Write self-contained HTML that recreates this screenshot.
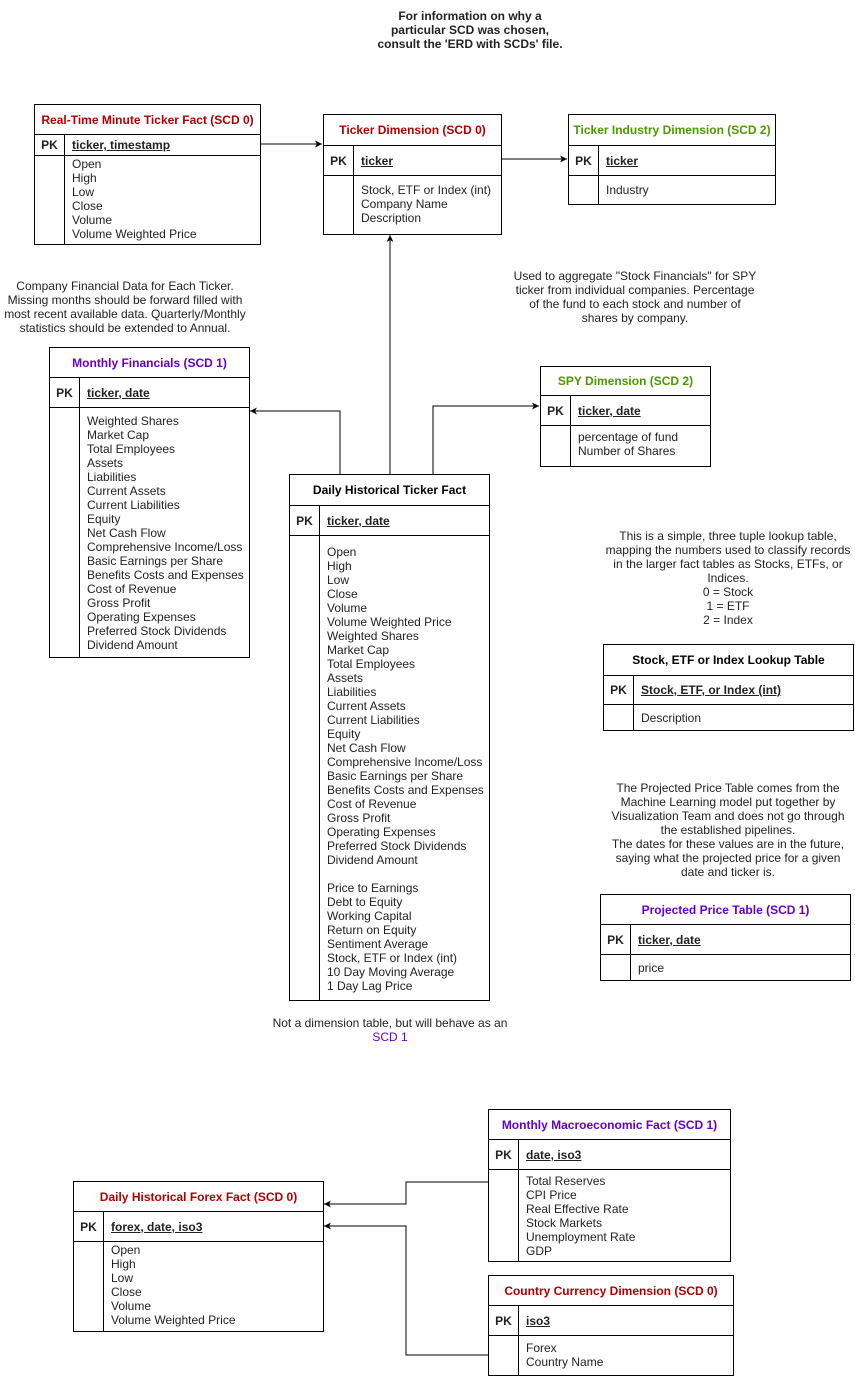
<!DOCTYPE html>
<html><head><meta charset="utf-8"><style>
body{margin:0;width:855px;height:1376px;background:#fff;position:relative;font-family:"Liberation Sans",Arial,sans-serif;font-size:12px;color:#222;overflow:hidden}
.t{position:absolute;border:1px solid #000;background:#fff;box-sizing:border-box;display:flex;flex-direction:column}
.h{border-bottom:1px solid #000;box-sizing:border-box;display:flex;align-items:center;justify-content:center;flex:none;font-weight:bold}
.r{display:flex;border-bottom:1px solid #000;box-sizing:border-box;flex:none;font-weight:bold}
.k{width:30px;border-right:1px solid #000;box-sizing:border-box;flex:none;display:flex;align-items:center;justify-content:center}
.r .v{padding-left:7px;display:flex;align-items:center;text-decoration:underline}
.b{display:flex;flex:1}
.b .v{padding-left:7px;line-height:14px}
.red{color:#b20000}.grn{color:#4d9900}.pur{color:#6600cc}
.n{position:absolute;text-align:center;line-height:14px}
svg{position:absolute;left:0;top:0}
</style></head><body>
<svg width="855" height="1376">
<defs><marker id="a" markerWidth="8" markerHeight="8" refX="7" refY="4" orient="auto" markerUnits="userSpaceOnUse"><path d="M0,0.5 L7,4 L0,7.5 L2,4z" fill="#000"/></marker></defs>
<g stroke="#000" fill="none" stroke-width="1">
<path d="M260,144 H322" marker-end="url(#a)"/>
<path d="M501,159 H567" marker-end="url(#a)"/>
<path d="M390,474 V235" marker-end="url(#a)"/>
<path d="M340,474 V411 H250" marker-end="url(#a)"/>
<path d="M433,474 V406 H539" marker-end="url(#a)"/>
<path d="M488,1182 H406 V1204 H324" marker-end="url(#a)"/>
<path d="M488,1355 H406 V1226 H324" marker-end="url(#a)"/>
</g></svg>

<div class="n" style="left:340px;top:9px;width:260px;font-weight:bold">For information on why a<br>particular SCD was chosen,<br>consult the 'ERD with SCDs' file.</div>

<div class="t" style="left:34px;top:104px;width:227px;height:141px">
<div class="h red" style="height:30px">Real-Time Minute Ticker Fact (SCD 0)</div>
<div class="r" style="height:21px"><div class="k">PK</div><div class="v">ticker, timestamp</div></div>
<div class="b"><div class="k"></div><div class="v" style="padding-top:1px">Open<br>High<br>Low<br>Close<br>Volume<br>Volume Weighted Price</div></div>
</div>

<div class="t" style="left:323px;top:114px;width:179px;height:121px">
<div class="h red" style="height:31px">Ticker Dimension (SCD 0)</div>
<div class="r" style="height:30px"><div class="k">PK</div><div class="v">ticker</div></div>
<div class="b"><div class="k"></div><div class="v" style="padding-top:7px">Stock, ETF or Index (int)<br>Company Name<br>Description</div></div>
</div>

<div class="t" style="left:568px;top:114px;width:208px;height:91px">
<div class="h grn" style="height:31px">Ticker Industry Dimension (SCD 2)</div>
<div class="r" style="height:30px"><div class="k">PK</div><div class="v">ticker</div></div>
<div class="b"><div class="k"></div><div class="v" style="padding-top:7px">Industry</div></div>
</div>

<div class="n" style="left:0px;top:279px;width:250px;">Company Financial Data for Each Ticker.<br>Missing months should be forward filled with<br>most recent available data. Quarterly/Monthly<br>statistics should be extended to Annual.</div>

<div class="t" style="left:49px;top:347px;width:201px;height:311px">
<div class="h pur" style="height:30px">Monthly Financials (SCD 1)</div>
<div class="r" style="height:30px"><div class="k">PK</div><div class="v">ticker, date</div></div>
<div class="b"><div class="k"></div><div class="v" style="padding-top:6px">Weighted Shares<br>Market Cap<br>Total Employees<br>Assets<br>Liabilities<br>Current Assets<br>Current Liabilities<br>Equity<br>Net Cash Flow<br>Comprehensive Income/Loss<br>Basic Earnings per Share<br>Benefits Costs and Expenses<br>Cost of Revenue<br>Gross Profit<br>Operating Expenses<br>Preferred Stock Dividends<br>Dividend Amount</div></div>
</div>

<div class="n" style="left:500px;top:269px;width:270px;">Used to aggregate "Stock Financials" for SPY<br>ticker from individual companies. Percentage<br>of the fund to each stock and number of<br>shares by company.</div>

<div class="t" style="left:540px;top:366px;width:171px;height:101px">
<div class="h grn" style="height:29px">SPY Dimension (SCD 2)</div>
<div class="r" style="height:30px"><div class="k">PK</div><div class="v">ticker, date</div></div>
<div class="b"><div class="k"></div><div class="v" style="padding-top:4px">percentage of fund<br>Number of Shares</div></div>
</div>

<div class="t" style="left:289px;top:474px;width:201px;height:527px">
<div class="h" style="height:31px;color:#000">Daily Historical Ticker Fact</div>
<div class="r" style="height:30px"><div class="k">PK</div><div class="v">ticker, date</div></div>
<div class="b"><div class="k"></div><div class="v" style="padding-top:9px">Open<br>High<br>Low<br>Close<br>Volume<br>Volume Weighted Price<br>Weighted Shares<br>Market Cap<br>Total Employees<br>Assets<br>Liabilities<br>Current Assets<br>Current Liabilities<br>Equity<br>Net Cash Flow<br>Comprehensive Income/Loss<br>Basic Earnings per Share<br>Benefits Costs and Expenses<br>Cost of Revenue<br>Gross Profit<br>Operating Expenses<br>Preferred Stock Dividends<br>Dividend Amount<br><br>Price to Earnings<br>Debt to Equity<br>Working Capital<br>Return on Equity<br>Sentiment Average<br>Stock, ETF or Index (int)<br>10 Day Moving Average<br>1 Day Lag Price</div></div>
</div>

<div class="n" style="left:250px;top:1016px;width:280px;">Not a dimension table, but will behave as an<br><span class="pur">SCD 1</span></div>

<div class="n" style="left:588px;top:529px;width:280px;">This is a simple, three tuple lookup table,<br>mapping the numbers used to classify records<br>in the larger fact tables as Stocks, ETFs, or<br>Indices.<br>0 = Stock<br>1 = ETF<br>2 = Index</div>

<div class="t" style="left:603px;top:644px;width:251px;height:87px">
<div class="h" style="height:31px;color:#000">Stock, ETF or Index Lookup Table</div>
<div class="r" style="height:29px"><div class="k">PK</div><div class="v">Stock, ETF, or Index (int)</div></div>
<div class="b"><div class="k"></div><div class="v" style="padding-top:6px">Description</div></div>
</div>

<div class="n" style="left:588px;top:781px;width:280px;">The Projected Price Table comes from the<br>Machine Learning model put together by<br>Visualization Team and does not go through<br>the established pipelines.<br>The dates for these values are in the future,<br>saying what the projected price for a given<br>date and ticker is.</div>

<div class="t" style="left:600px;top:894px;width:251px;height:87px">
<div class="h pur" style="height:30px">Projected Price Table (SCD 1)</div>
<div class="r" style="height:30px"><div class="k">PK</div><div class="v">ticker, date</div></div>
<div class="b"><div class="k"></div><div class="v" style="padding-top:6px">price</div></div>
</div>

<div class="t" style="left:488px;top:1109px;width:243px;height:153px">
<div class="h pur" style="height:30px">Monthly Macroeconomic Fact (SCD 1)</div>
<div class="r" style="height:30px"><div class="k">PK</div><div class="v">date, iso3</div></div>
<div class="b"><div class="k"></div><div class="v" style="padding-top:4px">Total Reserves<br>CPI Price<br>Real Effective Rate<br>Stock Markets<br>Unemployment Rate<br>GDP</div></div>
</div>

<div class="t" style="left:73px;top:1181px;width:251px;height:151px">
<div class="h red" style="height:30px">Daily Historical Forex Fact (SCD 0)</div>
<div class="r" style="height:30px"><div class="k">PK</div><div class="v">forex, date, iso3</div></div>
<div class="b"><div class="k"></div><div class="v" style="padding-top:1px">Open<br>High<br>Low<br>Close<br>Volume<br>Volume Weighted Price</div></div>
</div>

<div class="t" style="left:488px;top:1275px;width:246px;height:101px">
<div class="h red" style="height:30px">Country Currency Dimension (SCD 0)</div>
<div class="r" style="height:30px"><div class="k">PK</div><div class="v">iso3</div></div>
<div class="b"><div class="k"></div><div class="v" style="padding-top:5px">Forex<br>Country Name</div></div>
</div>
</body></html>
